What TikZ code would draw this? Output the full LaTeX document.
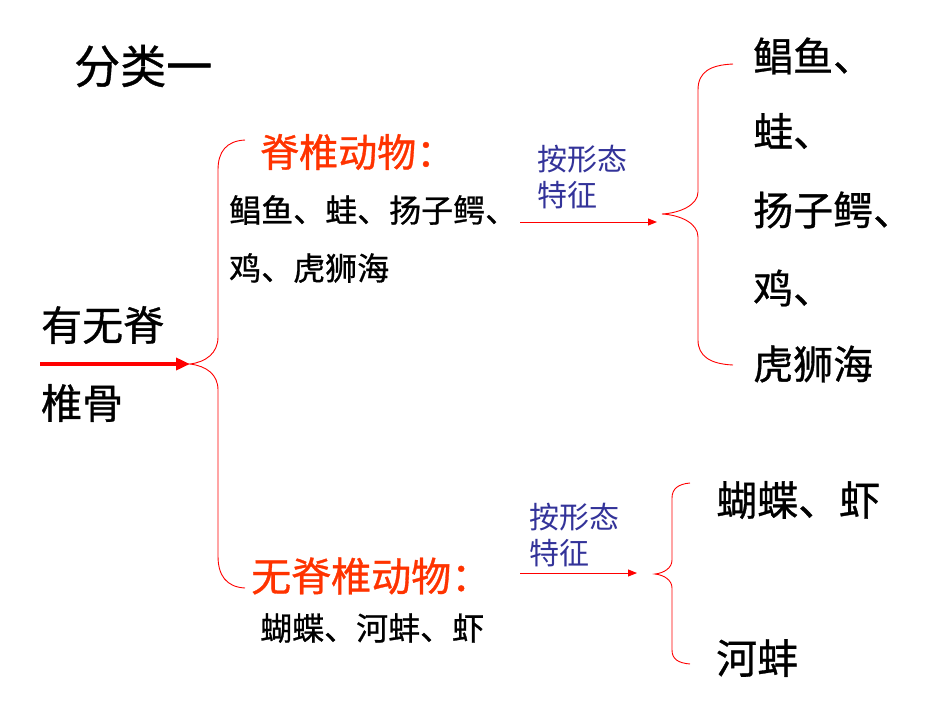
\documentclass[tikz,border=0pt]{standalone}
\usepackage{fontspec}
\newfontfamily\cjk{Noto Sans CJK SC}
\newfontfamily\cjkb[FakeBold=0.8]{Noto Sans CJK SC}
\usetikzlibrary{arrows.meta}
\definecolor{brred}{RGB}{255,0,0}
\definecolor{orred}{RGB}{255,51,0}
\definecolor{navy}{RGB}{51,51,153}
\newcommand{\fs}[1]{\cjk\fontsize{#1}{#1}\selectfont}
\newcommand{\fb}[1]{\cjkb\fontsize{#1}{#1}\selectfont}
\tikzset{
  txt/.style={inner sep=0pt, anchor=west},
  brace/.style={draw=brred, line width=0.9pt},
  bigarrow/.style={draw=brred, line width=4pt, -{Triangle[length=14pt,width=12pt]}},
  thinarrow/.style={draw=brred, line width=1pt, -{Triangle[length=9pt,width=7pt]}},
  heading/.style={txt, text=orred},
  method/.style={txt, text=navy, align=left, font=\fs{30}\linespread{1.23}\selectfont}
}
\begin{document}
\begin{tikzpicture}[x=1pt,y=-1pt]
\useasboundingbox (0,0) rectangle (950,713);
% title
\node[txt, font=\fb{46}] (title) at (74,66) {分类一};
% root
\node[txt, font=\fb{41}] (root1) at (41,325) {有无脊};
\node[txt, font=\fb{41}] (root2) at (41,403) {椎骨};
\coordinate (rootstart) at (40,364);
\coordinate (tipL) at (190,364);
\draw[bigarrow] (rootstart) -- (tipL);
% left brace
\draw[brace] (245,140) .. controls (226,141) and (218,152) .. (218,170)
  -- (218,337) .. controls (218,353) and (206,362) .. (tipL)
  .. controls (206,366) and (218,374) .. (218,390)
  -- (218,556) .. controls (218,575) and (226,587) .. (245,588);
% vertebrates
\node[heading, font=\fb{39}] (vert) at (260,152) {脊椎动物：};
\node[txt, font=\fb{32}] (vlist1) at (229,210) {鲳鱼、蛙、扬子鳄、};
\node[txt, font=\fb{32}] (vlist2) at (229,268) {鸡、虎狮海};
\node[method] (m1) at (537,177) {按形态\\特征};
\coordinate (a1s) at (520,222);
\coordinate (a1e) at (657,222);
\draw[thinarrow] (a1s) -- (a1e);
% right brace 1
\coordinate (tipR1) at (662,214);
\draw[brace] (733,64) .. controls (710,65) and (698,72) .. (698,90)
  -- (698,192) .. controls (698,205) and (680,213) .. (tipR1)
  .. controls (680,215) and (698,223) .. (698,237)
  -- (698,340) .. controls (698,356) and (710,364) .. (733,365);
\node[txt, font=\fb{40}] (r1) at (753,56) {鲳鱼、};
\node[txt, font=\fb{40}] (r2) at (753,131) {蛙、};
\node[txt, font=\fb{40}] (r3) at (753,210) {扬子鳄、};
\node[txt, font=\fb{40}] (r4) at (753,288) {鸡、};
\node[txt, font=\fb{40}] (r5) at (753,364) {虎狮海};
% invertebrates
\node[heading, font=\fb{40}] (invert) at (251,576) {无脊椎动物：};
\node[txt, font=\fb{32}] (ilist) at (260,628) {蝴蝶、河蚌、虾};
\node[method] (m2) at (529,535) {按形态\\特征};
\coordinate (a2s) at (520,573);
\coordinate (a2e) at (637,573);
\draw[thinarrow] (a2s) -- (a2e);
% right brace 2
\coordinate (tipR2) at (655,574);
\draw[brace] (690,483) .. controls (678,484) and (672,489) .. (672,498)
  -- (672,560) .. controls (672,568) and (664,573) .. (tipR2)
  .. controls (664,575) and (672,580) .. (672,588)
  -- (672,650) .. controls (672,659) and (678,663) .. (690,664);
\node[txt, font=\fb{41}] (b1) at (716,500) {蝴蝶、虾};
\node[txt, font=\fb{41}] (b2) at (716,658) {河蚌};
\end{tikzpicture}
\end{document}
